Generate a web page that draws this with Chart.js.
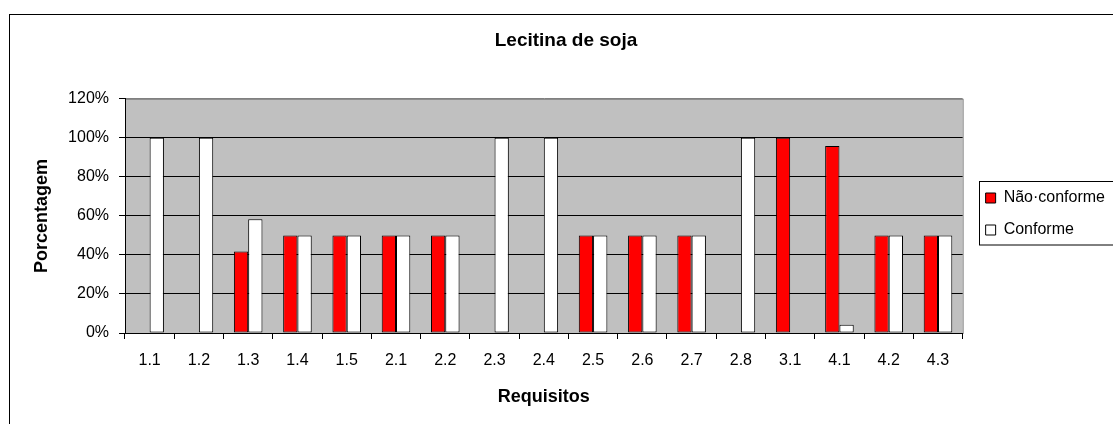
<!DOCTYPE html>
<html>
<head>
<meta charset="utf-8">
<script src="https://cdn.jsdelivr.net/npm/chart.js@4.4.1/dist/chart.umd.min.js"></script>
<style>
  html, body { margin: 0; padding: 0; background: #fff; }
  #wrap { width: 1113px; height: 424px; }
</style>
</head>
<body>
<div id="wrap"><canvas id="soyChart"></canvas></div>
<script>
// data
const requisitos = ['1.1', '1.2', '1.3', '1.4', '1.5', '2.1', '2.2', '2.3', '2.4', '2.5', '2.6', '2.7', '2.8', '3.1', '4.1', '4.2', '4.3'];
const naoConforme = [0, 0, 41.7, 50, 50, 50, 50, 0, 0, 50, 50, 50, 0, 100, 95.8, 50, 50];
const conforme   = [100, 100, 58.3, 50, 50, 50, 50, 100, 100, 50, 50, 50, 100, 0, 4.2, 50, 50];
const yTicks = [0, 20, 40, 60, 80, 100, 120];

const FONT = 'Liberation Sans, Arial, sans-serif';

// grey plot area + outer frame + legend frame
const framePlugin = {
  id: 'frames',
  afterLayout(chart) {
    // nudge legend and title to the right, like the original
    chart.legend.left += 7;
    chart.legend.right += 7;
    chart.titleBlock.left += 7;
    chart.titleBlock.right += 7;
  },
  beforeDraw(chart) {
    const ctx = chart.ctx, a = chart.chartArea;
    ctx.save();
    ctx.strokeStyle = '#000';
    ctx.lineWidth = 1;
    ctx.strokeRect(9.5, 14.5, chart.width + 20, chart.height + 20);
    ctx.fillStyle = '#c0c0c0';
    ctx.fillRect(a.left, a.top, a.right - a.left, a.bottom - a.top);
    ctx.strokeStyle = '#808080';
    ctx.strokeRect(a.left + 0.5, a.top + 0.5, a.right - a.left, a.bottom - a.top);
    ctx.restore();
  },
  afterDraw(chart) {
    const boxes = chart.legend.legendHitBoxes;
    if (!boxes || !boxes.length) return;
    const ctx = chart.ctx;
    const first = boxes[0], last = boxes[boxes.length - 1];
    const x = Math.round(first.left - 7) + 0.5;
    const y = Math.round(first.top - 9) + 0.5;
    const h = Math.round(last.top + last.height + 7) - y;
    ctx.save();
    ctx.strokeStyle = '#000';
    ctx.lineWidth = 1;
    ctx.strokeRect(x, y, chart.width + 10 - x, h);
    ctx.restore();
  }
};

new Chart(document.getElementById('soyChart'), {
  type: 'bar',
  data: {
    labels: requisitos,
    datasets: [{
      label: 'Não·conforme',
      data: naoConforme,
      backgroundColor: '#ff0000',
      borderColor: '#000',
      borderWidth: 1,
      borderSkipped: false
    }, {
      label: 'Conforme',
      data: conforme,
      backgroundColor: '#ffffff',
      borderColor: '#000',
      borderWidth: 1,
      borderSkipped: false
    }]
  },
  options: {
    responsive: true,
    maintainAspectRatio: false,
    animation: false,
    categoryPercentage: 0.58,
    barPercentage: 1,
    layout: { padding: { left: 10, top: 14, right: 5, bottom: 10 } },
    plugins: {
      title: {
        display: true,
        text: 'Lecitina de soja',
        color: '#000',
        font: { family: FONT, size: 19, weight: 'bold' },
        padding: { top: 15, bottom: 47 }
      },
      legend: {
        position: 'right',
        labels: {
          color: '#000',
          font: { family: FONT, size: 16 },
          boxWidth: 10,
          boxHeight: 10,
          padding: 16
        }
      },
      tooltip: { enabled: false }
    },
    scales: {
      x: {
        afterFit(scale) { scale.height = 81; },
        grid: { offset: true, drawOnChartArea: false, drawTicks: true, tickLength: 6, color: '#000' },
        border: { color: '#000' },
        ticks: { color: '#000', font: { family: FONT, size: 16 }, padding: 12, maxRotation: 0 },
        title: {
          display: true, text: 'Requisitos', color: '#000',
          font: { family: FONT, size: 18, weight: 'bold' },
          padding: { top: 0, bottom: 6 }
        }
      },
      y: {
        min: 0,
        max: 120,
        afterFit(scale) { scale.width = 115; },
        afterBuildTicks(scale) { scale.ticks = yTicks.map(v => ({ value: v })); },
        grid: {
          color: ctx => (ctx.tick && ctx.tick.value === 120 ? '#808080' : '#000'),
          tickLength: 6,
          tickColor: '#000'
        },
        border: { color: '#000' },
        ticks: { color: '#000', font: { family: FONT, size: 16 }, padding: 10, callback: v => v + '%' },
        title: {
          display: true, text: 'Porcentagem', color: '#000',
          font: { family: FONT, size: 18, weight: 'bold' },
          padding: { top: 21, bottom: 0 }
        }
      }
    }
  },
  plugins: [framePlugin]
});
</script>
</body>
</html>
